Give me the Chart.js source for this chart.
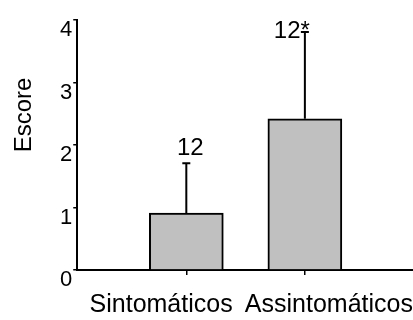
<!DOCTYPE html>
<html>
<head>
<meta charset="utf-8">
<script src="https://cdn.jsdelivr.net/npm/chart.js@4.4.0/dist/chart.umd.min.js"></script>
<style>
  html, body { margin: 0; padding: 0; background: #fff; }
  #wrap { width: 413px; height: 320px; }
</style>
</head>
<body>
<div id="wrap"><canvas id="chart"></canvas></div>
<script>
const groups = ["Sintomáticos", "Assintomáticos"];
const groupPos = [1, 2];
const means = [0.91, 2.42];
const errors = [0.80, 1.39];
const barNotes = ["12", "12*"];
const yTicks = [0, 1, 2, 3, 4];

const FONT = "'Liberation Sans', Arial, sans-serif";

// error bars + n labels drawn on top of the bars
const errorBars = {
  id: "errorBars",
  afterDatasetsDraw(chart) {
    const { ctx, chartArea } = chart;
    const meta = chart.getDatasetMeta(0);
    const yScale = chart.scales.y;
    ctx.save();
    ctx.strokeStyle = "#000";
    ctx.fillStyle = "#000";
    ctx.lineWidth = 2;
    ctx.font = "24px " + FONT;
    meta.data.forEach((bar, i) => {
      const top = yScale.getPixelForValue(means[i] + errors[i]);
      ctx.beginPath();
      ctx.moveTo(bar.x, bar.y);
      ctx.lineTo(bar.x, top);
      ctx.moveTo(bar.x - 4, top);
      ctx.lineTo(bar.x + 4, top);
      ctx.stroke();
      if (top - 30 < chartArea.top) {
        // no room above: put it beside the cap
        ctx.textAlign = "right";
        ctx.textBaseline = "middle";
        ctx.fillText(barNotes[i], bar.x + 5, top - 1);
      } else {
        ctx.textAlign = "center";
        ctx.textBaseline = "alphabetic";
        ctx.fillText(barNotes[i], bar.x + 4, top - 8);
      }
    });
    ctx.restore();
  }
};

const yTitle = {
  id: "yTitle",
  afterDraw(chart) {
    const { ctx, chartArea } = chart;
    ctx.save();
    ctx.translate(24, chartArea.top + 95);
    ctx.rotate(-Math.PI / 2);
    ctx.fillStyle = "#000";
    ctx.font = "24px " + FONT;
    ctx.textAlign = "center";
    ctx.textBaseline = "middle";
    ctx.fillText("Escore", 0, 0);
    ctx.restore();
  }
};

new Chart(document.getElementById("chart"), {
  type: "bar",
  data: {
    labels: groups,
    datasets: [{
      data: groupPos.map((x, i) => ({ x: x, y: means[i] })),
      backgroundColor: "#c0c0c0",
      borderColor: "#000",
      borderWidth: 2,
      barThickness: 74,
      xAxisID: "x",
      yAxisID: "y"
    }]
  },
  options: {
    responsive: true,
    maintainAspectRatio: false,
    animation: false,
    layout: { padding: { left: 59, top: 20, right: 0, bottom: 0 } },
    plugins: { legend: { display: false }, tooltip: { enabled: false } },
    scales: {
      x: {
        type: "linear",
        position: "bottom",
        weight: 0,
        offset: false,
        min: 0.08,
        max: 2.91,
        afterBuildTicks: (s) => { s.ticks = groupPos.map(v => ({ value: v })); },
        grid: { offset: false, drawOnChartArea: false, drawTicks: true, tickLength: 5, color: "#000", lineWidth: 1.5 },
        border: { color: "#000", width: 2 },
        ticks: { display: false }
      },
      cat: {
        type: "category",
        axis: "x",
        position: "bottom",
        weight: 1,
        offset: true,
        grid: { display: false, drawTicks: true, tickLength: 15 },
        border: { display: false },
        ticks: { color: "#000", padding: 0, maxRotation: 0, autoSkip: false, font: { family: FONT, size: 25 } }
      },
      y: {
        min: 0,
        max: 4,
        afterBuildTicks: (s) => { s.ticks = yTicks.map(v => ({ value: v })); },
        grid: { drawOnChartArea: false, tickLength: 4, color: "#000", lineWidth: 1.5 },
        border: { color: "#000", width: 2 },
        ticks: { color: "#000", padding: 1, labelOffset: 10, font: { family: FONT, size: 22 } }
      }
    }
  },
  plugins: [errorBars, yTitle]
});
</script>
</body>
</html>
